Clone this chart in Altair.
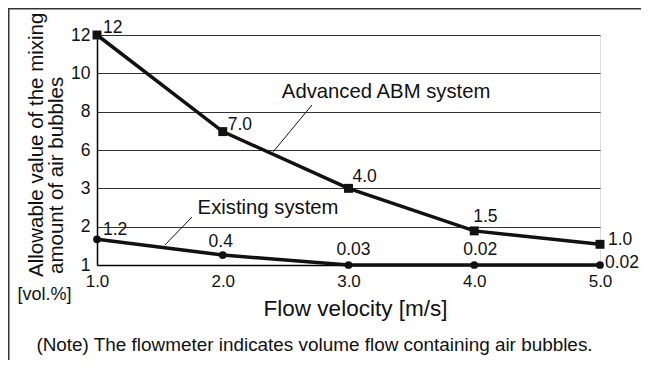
import altair as alt
import pandas as pd

# ---- data ----
velocity = [1.0, 2.0, 3.0, 4.0, 5.0]
abm_plot = [12.0, 6.96, 3.0, 1.89, 1.54]          # plotted position on the axis
abm_labels = ["12", "7.0", "4.0", "1.5", "1.0"]   # printed values
existing_plot = [1.67, 1.26, 1.0, 1.0, 1.0]
existing_labels = ["1.2", "0.4", "0.03", "0.02", "0.02"]
y_ticks = [1, 2, 3, 6, 8, 10, 12]
x_ticks = [1.0, 2.0, 3.0, 4.0, 5.0]

# label offsets (style): (align, dx, dy)
abm_offsets = [("left", 6, -7), ("left", 5, -7), ("left", 4, -11), ("left", -1, -14), ("left", 8, -4)]
ex_offsets = [("left", 6, -9), ("center", -2, -13), ("center", 5, -15), ("center", 6, -15), ("left", 5, -2)]

W, H = 503, 230
FONT = "Liberation Sans"
y_range = [H - i * H / (len(y_ticks) - 1) for i in range(len(y_ticks))]

xs = alt.Scale(domain=[1, 5], nice=False, zero=False)
ys = alt.Scale(domain=y_ticks, range=y_range, nice=False, zero=False)

abm = pd.DataFrame({"v": velocity, "y": abm_plot, "label": abm_labels})
ex = pd.DataFrame({"v": velocity, "y": existing_plot, "label": existing_labels})

one = alt.Data(values=[{}])

x_enc = alt.X("v:Q", scale=xs, axis=alt.Axis(
    values=x_ticks, format=".1f", labelFontSize=17, labelPadding=8, ticks=False, tickSize=0,
    grid=False, labelFlush=False, domainColor="#000", domainWidth=1.5, labelColor="#111",
    title="Flow velocity [m/s]", titleFontSize=22.5, titleFontWeight="normal", titleColor="#111",
    titleX=258, titleY=50, titleBaseline="alphabetic", titleAnchor="start", titleAlign="center"))
y_enc = alt.Y("y:Q", scale=ys, axis=alt.Axis(
    values=y_ticks, tickCount=20, format="d", labelOverlap=False, labelFontSize=17.5, labelPadding=7,
    ticks=False, tickSize=0,
    grid=True, gridColor="#333", gridWidth=1, domainColor="#000", domainWidth=1.5,
    labelColor="#111", title=None))

base_abm = alt.Chart(abm).encode(x=x_enc, y=y_enc)
base_ex = alt.Chart(ex).encode(x=alt.X("v:Q", scale=xs), y=alt.Y("y:Q", scale=ys))

layers = [
    base_abm.mark_line(color="#111", strokeWidth=3.5),
    base_abm.mark_point(shape="square", filled=True, size=80, color="#111", opacity=1),
    base_ex.mark_line(color="#111", strokeWidth=3.5),
    base_ex.mark_point(shape="circle", filled=True, size=60, color="#111", opacity=1),
]

for i, (al, dx, dy) in enumerate(abm_offsets):
    layers.append(alt.Chart(abm.iloc[[i]]).mark_text(
        align=al, baseline="middle", dx=dx, dy=dy, fontSize=17.5, font=FONT, color="#111"
    ).encode(x=alt.X("v:Q", scale=xs), y=alt.Y("y:Q", scale=ys), text="label:N"))
for i, (al, dx, dy) in enumerate(ex_offsets):
    layers.append(alt.Chart(ex.iloc[[i]]).mark_text(
        align=al, baseline="middle", dx=dx, dy=dy, fontSize=17.5, font=FONT, color="#111"
    ).encode(x=alt.X("v:Q", scale=xs), y=alt.Y("y:Q", scale=ys), text="label:N"))

# annotations with leader lines (in data coordinates)
ann = pd.DataFrame({
    "name": ["Advanced ABM system", "Existing system"],
    "tx": [2.47, 1.80], "ty": [9.03, 2.49],
    "x1": [2.71, 1.755], "y1": [8.35, 2.25],
    "x2": [2.40, 1.54], "y2": [5.85, 1.52],
})
layers.append(alt.Chart(ann).mark_text(align="left", baseline="middle", fontSize=20.3, font=FONT, color="#111")
              .encode(x=alt.X("tx:Q", scale=xs), y=alt.Y("ty:Q", scale=ys), text="name:N"))
layers.append(alt.Chart(ann).mark_rule(color="#111", strokeWidth=1)
              .encode(x=alt.X("x1:Q", scale=xs), y=alt.Y("y1:Q", scale=ys),
                      x2="x2:Q", y2="y2:Q"))

# y-axis title lines, unit, note and frame
layers.append(alt.Chart(one).mark_text(angle=270, align="left", baseline="alphabetic", fontSize=20.5,
                                       font=FONT, color="#111")
              .encode(x=alt.value(-54), y=alt.value(242), text=alt.value("Allowable value of the mixing")))
layers.append(alt.Chart(one).mark_text(angle=270, align="left", baseline="alphabetic", fontSize=20.5,
                                       font=FONT, color="#111")
              .encode(x=alt.value(-34), y=alt.value(239), text=alt.value("amount of air bubbles")))
layers.append(alt.Chart(one).mark_text(align="center", baseline="middle", fontSize=18, font=FONT, color="#111")
              .encode(x=alt.value(-52.5), y=alt.value(260), text=alt.value("[vol.%]")))
layers.append(alt.Chart(one).mark_text(align="center", baseline="middle", fontSize=18.9, font=FONT, color="#111")
              .encode(x=alt.value(217.5), y=alt.value(310),
                      text=alt.value("(Note) The flowmeter indicates volume flow containing air bubbles.")))
# outer frame: only its left and top edges fall inside the picture
layers.append(alt.Chart(one).mark_rule(color="#333", strokeWidth=1.5)
              .encode(x=alt.value(-88.25), x2=alt.value(W + 200), y=alt.value(-26.25)))
layers.append(alt.Chart(one).mark_rule(color="#333", strokeWidth=1.5)
              .encode(x=alt.value(-88.25), y=alt.value(-27), y2=alt.value(H + 200)))

chart = alt.layer(*layers).properties(
    width=W, height=H,
    autosize=alt.AutoSizeParams(type="none"),
    padding={"left": 89, "top": 27, "right": 41, "bottom": 95},
).configure_view(stroke="#333", strokeWidth=1.2).configure(font=FONT, background="white")

chart.save("out.html", embed_options={"renderer": "svg", "actions": False})
